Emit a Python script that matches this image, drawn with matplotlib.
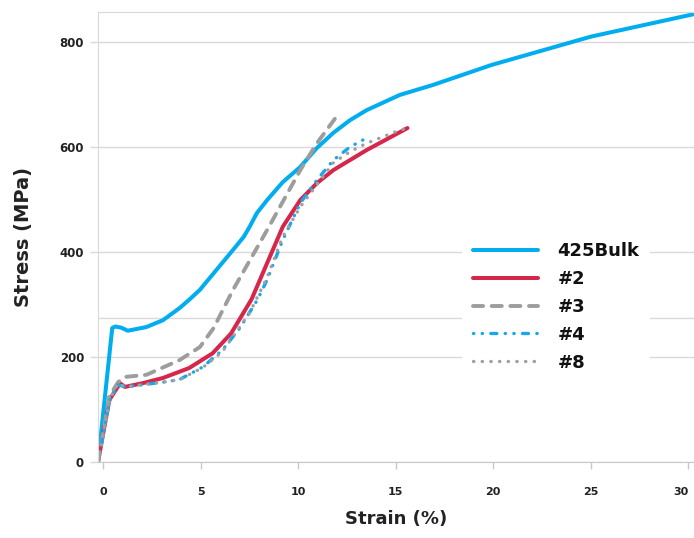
import matplotlib.pyplot as plt

# strain (%) / stress (MPa)
strain_bulk = [-0.28, 0.45, 0.6, 0.9, 1.25, 2.2, 3.05, 3.9, 4.4, 4.95, 5.8, 6.65, 7.2,
               7.5, 7.87, 8.4, 9.2, 10.1, 10.95, 11.8, 12.65, 13.5, 15.2, 16.9,
               19.9, 25.0, 30.3]
stress_bulk = [0, 255, 258, 256, 250, 257, 270, 293, 309, 328, 366, 404, 429,
               448, 474, 499, 533, 562, 598, 627, 651, 670, 699, 718,
               756, 810, 853]

strain_2 = [-0.28, 0.3, 0.85, 1.1, 2.0, 3.05, 4.4, 5.6, 6.55, 7.6, 8.4, 9.2,
            10.1, 10.95, 11.8, 13.5, 15.6]
stress_2 = [0, 118, 150, 143, 150, 160, 179, 207, 245, 310, 379, 448,
            499, 531, 556, 594, 636]

strain_3 = [-0.28, 0.3, 0.75, 1.1, 2.2, 3.9, 4.95, 5.65, 6.65, 8.4, 10.1, 10.95, 11.9]
stress_3 = [0, 125, 152, 162, 166, 194, 219, 255, 328, 442, 556, 607, 655]

strain_4 = [-0.28, 0.3, 0.75, 1.1, 3.05, 3.9, 5.1, 6.1, 7.0, 7.9, 8.4, 9.2,
            10.1, 10.95, 11.8, 12.65, 13.4]
stress_4 = [0, 115, 147, 143, 152, 157, 181, 213, 255, 309, 347, 423,
            493, 537, 575, 600, 615]

strain_8 = [-0.28, 0.3, 0.75, 1.1, 3.05, 3.9, 5.1, 6.1, 7.5, 8.4, 9.2, 10.1,
            11.8, 12.65, 13.5, 15.2, 15.6]
stress_8 = [0, 118, 150, 143, 152, 157, 180, 210, 284, 352, 429, 486,
            570, 591, 607, 632, 636]

fig = plt.figure(figsize=(6.94, 5.38), dpi=100)
ax = fig.add_axes([98 / 694, 76 / 538, 596 / 694, 450 / 538])

grid_c = "#d9d9d9"
ax.set_xlim(-0.28, 30.3)
ax.set_ylim(0, 857)
ax.set_yticks([0, 200, 400, 600, 800])
ax.set_xticks([0, 5, 10, 15, 20, 25, 30])
ax.yaxis.grid(True, color=grid_c, lw=1)
ax.axhline(275, color=grid_c, lw=1, zorder=0.5)
ax.set_axisbelow(True)
for s in ["top", "left"]:
    ax.spines[s].set_color(grid_c)
ax.spines["right"].set_visible(False)
ax.spines["bottom"].set_color("#c8c8c8")

ax.tick_params(axis="y", length=6, width=1, color=grid_c, pad=4, labelsize=8.5, labelcolor="#222222")
ax.tick_params(axis="x", length=5, width=1, color="#c8c8c8", pad=13, labelsize=8, labelcolor="#222222")
for t in ax.get_xticklabels() + ax.get_yticklabels():
    t.set_fontweight("bold")
ax.get_xticklabels()[-1].set_horizontalalignment("right")
ax.get_xticklabels()[-1].set_x(30.45)

ax.plot(strain_bulk, stress_bulk, color="#00aeef", lw=2.9, label="425Bulk",
        solid_capstyle="round", solid_joinstyle="round")
ax.plot(strain_2, stress_2, color="#d7264b", lw=2.9, label="#2",
        solid_capstyle="round", solid_joinstyle="round")
ax.plot(strain_3, stress_3, color="#9d9d9d", lw=2.8, label="#3",
        linestyle=(0, (2.6, 2.2)), dash_capstyle="round")
ax.plot(strain_4, stress_4, color="#1aa7e8", lw=2.4, label="#4",
        linestyle=(0, (0.1, 2.5, 0.1, 2.5, 1.8, 2.5)), dash_capstyle="round")
ax.plot(strain_8, stress_8, color="#a0a0a0", lw=2.4, label="#8",
        linestyle=(0, (0.1, 2.5)), dash_capstyle="round")

ax.set_xlabel("Strain (%)", fontsize=13, fontweight="bold", labelpad=9, color="#222222")
ax.set_ylabel("Stress (MPa)", fontsize=14, fontweight="bold", labelpad=19, color="#222222")

leg = ax.legend(loc="center", bbox_to_anchor=(556 / 694, 1 - 307 / 538),
                bbox_transform=fig.transFigure, frameon=True, fancybox=False,
                facecolor="white", edgecolor="none", framealpha=1,
                prop={"weight": "bold", "size": 13}, handlelength=3.6,
                handletextpad=1.1, labelspacing=0.54, borderpad=0.6,
                borderaxespad=0)
leg._legend_box.sep = 0
for t in leg.get_texts():
    t.set_color("#111111")

fig.savefig("out.png", dpi=100)
